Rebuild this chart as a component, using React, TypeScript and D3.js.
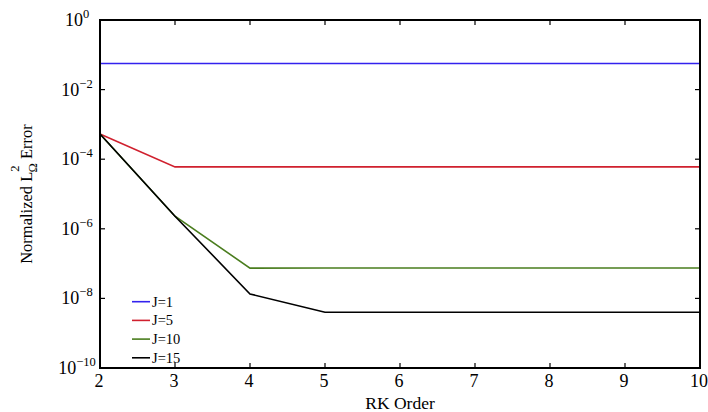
import React from "react";
import * as d3 from "d3";

// RK order on the x axis, normalized error per J on a log y axis
const rkOrders = [2, 3, 4, 5, 6, 7, 8, 9, 10];
const errJ1 = [0.056, 0.056, 0.056, 0.056, 0.056, 0.056, 0.056, 0.056, 0.056];
const errJ5 = [5.3e-4, 6.0e-5, 6.0e-5, 6.0e-5, 6.0e-5, 6.0e-5, 6.0e-5, 6.0e-5, 6.0e-5];
const errJ10 = [5.3e-4, 2.3e-6, 7.4e-8, 7.5e-8, 7.5e-8, 7.5e-8, 7.5e-8, 7.5e-8, 7.5e-8];
const errJ15 = [5.3e-4, 2.3e-6, 1.34e-8, 4.0e-9, 4.0e-9, 4.0e-9, 4.0e-9, 4.0e-9, 4.0e-9];

const seriesNames = ["J=1", "J=5", "J=10", "J=15"];
const seriesColors = ["#3322ee", "#d0202e", "#4a7d1e", "#000000"];
const seriesValues = [errJ1, errJ5, errJ10, errJ15];

const yTickExps = [0, -2, -4, -6, -8, -10];

const W = 708;
const H = 412;
const m = { left: 100, right: 8, top: 20, bottom: 44 };

export default function App() {
  const x = d3.scaleLinear().domain([2, 10]).range([m.left, W - m.right]);
  const y = d3.scaleLog().domain([1e-10, 1]).range([H - m.bottom, m.top]);
  const line = d3
    .line<number>()
    .x((_, i) => x(rkOrders[i]))
    .y((d) => y(d));

  const x0 = m.left;
  const x1 = W - m.right;
  const y0 = H - m.bottom;
  const y1 = m.top;
  const tick = 5;
  const font = "'Liberation Serif', 'Times New Roman', serif";

  return (
    <svg
      width={W}
      height={H}
      style={{ position: "absolute", left: 0, top: 0, background: "#fff" }}
      fontFamily={font}
    >
      {/* data lines */}
      {seriesValues.map((vals, k) => (
        <path
          key={seriesNames[k]}
          d={line(vals) || ""}
          fill="none"
          stroke={seriesColors[k]}
          strokeWidth={1.6}
        />
      ))}

      {/* box */}
      <rect x={x0} y={y1} width={x1 - x0} height={y0 - y1} fill="none" stroke="#000" strokeWidth={2} />

      {/* x ticks */}
      {rkOrders.map((v) => (
        <g key={"x" + v}>
          <line x1={x(v)} x2={x(v)} y1={y0} y2={y0 - tick} stroke="#000" strokeWidth={1.2} />
          <line x1={x(v)} x2={x(v)} y1={y1} y2={y1 + tick} stroke="#000" strokeWidth={1.2} />
          <text x={x(v) - 1} y={387} textAnchor="middle" fontSize={18}>
            {v}
          </text>
        </g>
      ))}

      {/* y ticks */}
      {yTickExps.map((e) => {
        const yy = y(Math.pow(10, e));
        return (
          <g key={"y" + e}>
            <line x1={x0} x2={x0 + tick} y1={yy} y2={yy} stroke="#000" strokeWidth={1.2} />
            <line x1={x1} x2={x1 - tick} y1={yy} y2={yy} stroke="#000" strokeWidth={1.2} />
            <text x={77} y={yy + 6} textAnchor="middle" fontSize={18}>
              10
              <tspan dy={-8} fontSize={12.5}>
                {e === 0 ? "0" : "\u2212" + Math.abs(e)}
              </tspan>
            </text>
          </g>
        );
      })}

      {/* axis labels */}
      <text x={(x0 + x1) / 2} y={409} textAnchor="middle" fontSize={17.5}>
        RK Order
      </text>
      <g transform={`translate(32, ${(y0 + y1) / 2}) rotate(-90)`}>
        <text textAnchor="middle" fontSize={16.5}>
          Normalized L
          <tspan dy={-13} fontSize={12.5}>2</tspan>
          <tspan dx={-7} dy={18} fontSize={12.5}>{"\u03a9"}</tspan>
          <tspan dy={-5}> Error</tspan>
        </text>
      </g>

      {/* legend */}
      {seriesNames.map((name, k) => {
        const ly = 301.7 + k * 18.7;
        return (
          <g key={"lg" + name}>
            <line x1={132} x2={150} y1={ly} y2={ly} stroke={seriesColors[k]} strokeWidth={1.6} />
            <text x={152} y={ly + 5} fontSize={14.5}>
              {name}
            </text>
          </g>
        );
      })}
    </svg>
  );
}
